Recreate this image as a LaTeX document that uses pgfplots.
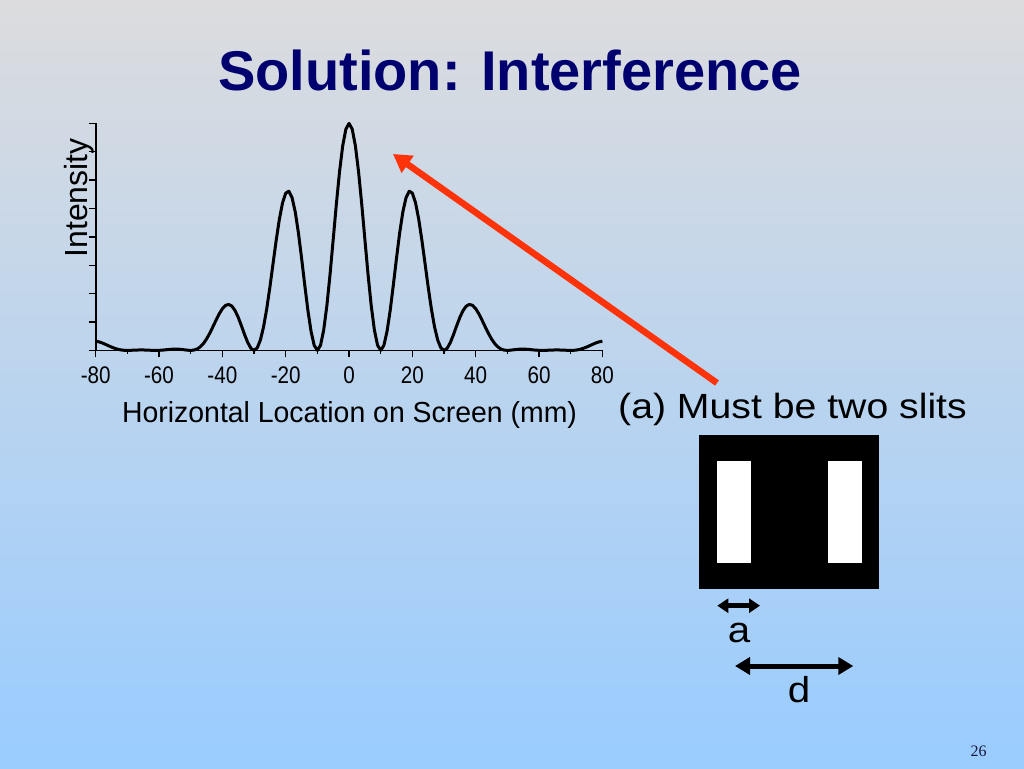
\documentclass[border=0pt]{standalone}
\usepackage{pgfplots}
\pgfplotsset{compat=1.18}
\usepackage{fontspec}
\setmainfont{Liberation Sans}
\newfontfamily\slidenum{Liberation Serif}
\usetikzlibrary{arrows.meta}

\definecolor{titleblue}{RGB}{0,0,110}
\definecolor{bgtop}{RGB}{220,220,222}
\definecolor{bgbottom}{RGB}{153,204,255}
\definecolor{pointer}{RGB}{255,51,10}

\begin{document}
\begin{tikzpicture}[x=1pt,y=1pt]
  \useasboundingbox (0,0) rectangle (1024,768);
  \shade[top color=bgtop, bottom color=bgbottom] (0,0) rectangle (1024,768);

  % slide title
  \node[anchor=base, text=titleblue, font=\fontsize{56}{60}\selectfont\bfseries, inner sep=0pt]
    at (510,677) {Solution: Interference};

  % two-slit interference pattern
  \begin{axis}[
      at={(95.7pt,417.6pt)}, anchor=south west,
      scale only axis,
      width=506.7pt, height=227pt,
      xmin=-80, xmax=80, ymin=0, ymax=1,
      clip=false,
      axis x line=bottom, axis y line=left,
      every outer x axis line/.append style={-},
      every outer y axis line/.append style={-},
      axis line style={line width=1.6pt, black},
      xtick={-80,-60,...,80},
      xticklabels={-80,-60,-40,-20,0,20,40,60,80},
      minor xtick={-70,-50,...,70},
      ytick={0,0.125,...,1},
      yticklabels={},
      tick align=outside,
      major tick length=7pt,
      minor tick length=3.5pt,
      every tick/.style={black, line width=1.4pt},
      xticklabel style={font=\fontsize{24}{24}\selectfont, xscale=0.86, anchor=base, yshift=-26pt},
      xlabel={Horizontal Location on Screen (mm)},
      xlabel style={font=\fontsize{29}{30}\selectfont, xscale=0.98, at={(axis description cs:0.501,-0.316)}, anchor=base},
      ylabel={Intensity},
      ylabel style={font=\fontsize{32}{34}\selectfont, at={(axis description cs:-0.016,0.672)}, anchor=base},
    ]
    \addplot[black, line width=3pt, line join=round] coordinates {
      (-80,0.0406) (-79,0.0377) (-78,0.0331) (-77,0.0272) (-76,0.0208) (-75,0.0146) (-74,0.0092) (-73,0.0049) (-72,0.0020) (-71,0.0004)
      (-70,0.0000) (-69,0.0003) (-68,0.0010) (-67,0.0016) (-66,0.0019) (-65,0.0019) (-64,0.0014) (-63,0.0008) (-62,0.0002) (-61,0.0000)
      (-60,0.0003) (-59,0.0011) (-58,0.0024) (-57,0.0039) (-56,0.0051) (-55,0.0058) (-54,0.0056) (-53,0.0044) (-52,0.0027) (-51,0.0009)
      (-50,0.0000) (-49,0.0013) (-48,0.0060) (-47,0.0153) (-46,0.0300) (-45,0.0501) (-44,0.0752) (-43,0.1036) (-42,0.1331) (-41,0.1608)
      (-40,0.1836) (-39,0.1983) (-38,0.2026) (-37,0.1950) (-36,0.1755) (-35,0.1458) (-34,0.1091) (-33,0.0702) (-32,0.0350) (-31,0.0096)
      (-30,0.0000) (-29,0.0109) (-28,0.0452) (-27,0.1032) (-26,0.1825) (-25,0.2781) (-24,0.3822) (-23,0.4855) (-22,0.5780) (-21,0.6498)
      (-20,0.6928) (-19,0.7013) (-18,0.6733) (-17,0.6107) (-16,0.5191) (-15,0.4081) (-14,0.2896) (-13,0.1771) (-12,0.0839) (-11,0.0220)
      (-10,0.0000) (-9,0.0228) (-8,0.0902) (-7,0.1973) (-6,0.3346) (-5,0.4890) (-4,0.6453) (-3,0.7876) (-2,0.9013) (-1,0.9747)
      (0,1.0000)
      (1,0.9747) (2,0.9013) (3,0.7876) (4,0.6453) (5,0.4890) (6,0.3346) (7,0.1973) (8,0.0902) (9,0.0228) (10,0.0000)
      (11,0.0220) (12,0.0839) (13,0.1771) (14,0.2896) (15,0.4081) (16,0.5191) (17,0.6107) (18,0.6733) (19,0.7013) (20,0.6928)
      (21,0.6498) (22,0.5780) (23,0.4855) (24,0.3822) (25,0.2781) (26,0.1825) (27,0.1032) (28,0.0452) (29,0.0109) (30,0.0000)
      (31,0.0096) (32,0.0350) (33,0.0702) (34,0.1091) (35,0.1458) (36,0.1755) (37,0.1950) (38,0.2026) (39,0.1983) (40,0.1836)
      (41,0.1608) (42,0.1331) (43,0.1036) (44,0.0752) (45,0.0501) (46,0.0300) (47,0.0153) (48,0.0060) (49,0.0013) (50,0.0000)
      (51,0.0009) (52,0.0027) (53,0.0044) (54,0.0056) (55,0.0058) (56,0.0051) (57,0.0039) (58,0.0024) (59,0.0011) (60,0.0003)
      (61,0.0000) (62,0.0002) (63,0.0008) (64,0.0014) (65,0.0019) (66,0.0019) (67,0.0016) (68,0.0010) (69,0.0003) (70,0.0000)
      (71,0.0004) (72,0.0020) (73,0.0049) (74,0.0092) (75,0.0146) (76,0.0208) (77,0.0272) (78,0.0331) (79,0.0377) (80,0.0406)
    };
  \end{axis}

  % pointer from the caption to the pattern
  \draw[pointer, line width=6.5pt, -{Triangle[length=18pt,width=20pt]}] (717,385) -- (393,614);

  \node[anchor=base west, inner sep=0pt, font=\fontsize{35}{38}\selectfont, xscale=1.12]
    at (618,349) {(a) Must be two slits};

  % double slit sketch
  \fill[black] (699.3,178.7) rectangle (879.3,333);
  \fill[white] (716.7,204.7) rectangle (751,307);
  \fill[white] (828,204.7) rectangle (862.3,307);

  \draw[black, line width=4.5pt, {Triangle[length=11pt,width=14pt]}-{Triangle[length=11pt,width=14pt]}]
    (717.3,162.3) -- (760,162.3);
  \node[anchor=base, inner sep=0pt, font=\fontsize{36}{38}\selectfont, xscale=1.12] at (739,125) {a};
  \draw[black, line width=5pt, {Triangle[length=15pt,width=17pt]}-{Triangle[length=15pt,width=17pt]}]
    (735,102) -- (853.3,102);
  \node[anchor=base, inner sep=0pt, font=\fontsize{36}{38}\selectfont, xscale=1.12] at (799,66) {d};

  \node[anchor=base, inner sep=0pt, text={rgb,255:red,25;green,25;blue,60}, font=\slidenum\fontsize{16}{18}\selectfont]
    at (978.5,12) {26};
\end{tikzpicture}
\end{document}
